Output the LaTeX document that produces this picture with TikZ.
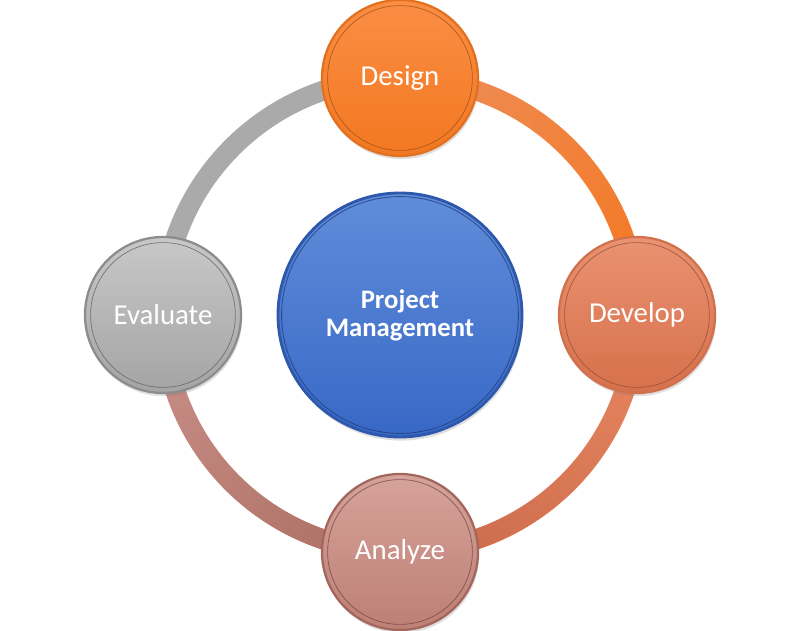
\documentclass[tikz,border=0pt]{standalone}
\usepackage{fontspec}
\setmainfont{Carlito}
\usetikzlibrary{positioning,shadows,fadings,backgrounds}

\definecolor{designtop}{HTML}{FB8E44}
\definecolor{designbot}{HTML}{F27821}
\definecolor{designrim}{HTML}{E3701F}
\definecolor{developtop}{HTML}{EA9271}
\definecolor{developbot}{HTML}{D6704B}
\definecolor{developrim}{HTML}{D0704D}
\definecolor{analyzetop}{HTML}{D6A39A}
\definecolor{analyzebot}{HTML}{BD7F76}
\definecolor{analyzerim}{HTML}{A2665D}
\definecolor{evaltop}{HTML}{C8C8C8}
\definecolor{evalbot}{HTML}{A4A4A4}
\definecolor{evalrim}{HTML}{8C8C8C}
\definecolor{hubtop}{HTML}{608DDA}
\definecolor{hubbot}{HTML}{3868C6}
\definecolor{hubrim}{HTML}{2D58AC}
\definecolor{ringgray}{HTML}{AAAAAA}

\tikzfading[name=ringfade, left color=transparent!100, right color=transparent!0]

\begin{document}
\begin{tikzpicture}[node distance={59.25mm},
  bubble/.style={circle,minimum size=39mm,inner sep=0pt,text=white,line width=1.6pt,
    font=\fontsize{20.5}{24}\selectfont,
    drop shadow={opacity=0.25,shadow xshift=0.3mm,shadow yshift=-0.8mm}},
  tint/.style n args={3}{top color=#1,bottom color=#2,draw=#3,
    path picture={\draw[#3!70!black,line width=0.5pt,opacity=0.8]
      (path picture bounding box.center) circle (18.1mm);}},
  hub/.style={circle,minimum size=61mm,inner sep=0pt,text=white,line width=2pt,
    align=center,font=\bfseries\fontsize{19}{20}\selectfont,
    top color=hubtop,bottom color=hubbot,draw=hubrim,
    path picture={\draw[hubrim!70!black,line width=0.6pt,opacity=0.8]
      (path picture bounding box.center) circle (29.6mm);},
    drop shadow={opacity=0.25,shadow xshift=0.3mm,shadow yshift=-0.9mm}},
  ring/.style={line width=5mm}]
  \useasboundingbox (-10,-7.9) rectangle (10,7.875);

  \node[hub] (pm) at (0,0) {Project\\Management};
  \node[bubble,tint={designtop}{designbot}{designrim}] (design) [above of=pm] {Design};
  \node[bubble,tint={developtop}{developbot}{developrim}] (develop) [right of=pm] {Develop};
  \node[bubble,tint={analyzetop}{analyzebot}{analyzerim}] (analyze) [below of=pm] {Analyze};
  \node[bubble,tint={evaltop}{evalbot}{evalrim}] (evaluate) [left of=pm] {Evaluate};

  % ring behind the bubbles
  \begin{scope}[on background layer]
    \draw[ring,ringgray] (evaluate.center) to[bend left=45] (design.center);
    \draw[ring,color={rgb,255:red,239;green,139;blue,82}] (design.center) to[bend left=45] (develop.center);
    \draw[ring,color={rgb,255:red,244;green,122;blue,39},path fading=ringfade,fading angle=-45] (design.center) to[bend left=45] (develop.center);
    \draw[ring,color={rgb,255:red,229;green,131;blue,94}] (develop.center) to[bend left=45] (analyze.center);
    \draw[ring,color={rgb,255:red,204;green,109;blue,76},path fading=ringfade,fading angle=-135] (develop.center) to[bend left=45] (analyze.center);
    \draw[ring,color={rgb,255:red,199;green,140;blue,133}] (evaluate.center) to[bend right=45] (analyze.center);
    \draw[ring,color={rgb,255:red,174;green,114;blue,102},path fading=ringfade,fading angle=-45] (evaluate.center) to[bend right=45] (analyze.center);
  \end{scope}
\end{tikzpicture}
\end{document}
